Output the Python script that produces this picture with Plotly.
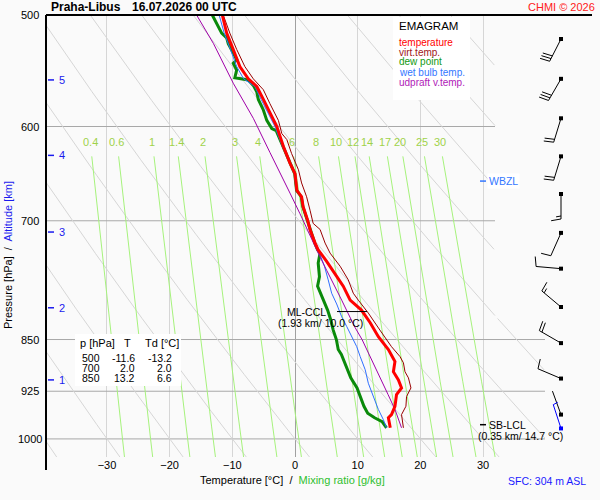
import math
import plotly.graph_objects as go

# ---------------- sounding data ----------------
temp_p = [500, 515, 529, 544, 555, 562, 574, 587, 600, 620, 637, 648, 666, 673, 684, 699, 710, 726, 734, 748,
          763, 779, 797, 810, 827, 846, 864, 881, 896, 908, 920, 930, 948, 961, 966, 982]
temp_T = [-11.6, -10.9, -9.85, -8.8, -7.45, -6.1, -5.05, -4.0, -2.9, -1.85, -0.8, 0.0, 0.3, 1.05, 1.3, 2.0, 2.4, 3.2, 3.7, 5.05,
          6.4, 7.7, 8.8, 10.6, 12.0, 13.3, 14.9, 15.95, 15.7, 16.5, 17.0, 16.2, 15.95, 15.4, 14.9, 15.2]

dew_p = [500, 507, 515, 519, 524, 532, 538, 541, 547, 554, 556, 561, 567, 574, 584, 594, 602, 604, 620, 637,
         648, 666, 673, 684, 700, 710, 726, 734, 738, 750, 767, 779, 792, 797, 810, 823, 837, 850, 864, 871,
         880, 891, 905, 920, 934, 948, 959, 966, 972, 982]
dew_T = [-13.2, -12.5, -11.7, -10.9, -10.65, -9.85, -9.3, -9.85, -9.3, -9.6, -7.45, -6.65, -6.1, -5.85, -5.05, -4.5, -3.7, -3.0, -1.9, -0.85,
         -0.05, 0.25, 1.0, 1.25, 2.0, 2.35, 3.15, 3.6, 4.0, 3.7, 3.9, 3.6, 4.3, 4.5, 5.2, 5.7, 6.1, 6.6, 6.9, 7.4,
         7.8, 8.2, 8.9, 9.9, 10.4, 11.0, 11.6, 12.7, 13.9, 14.6]

vt_p = [500, 515, 529, 544, 555, 565, 578, 594, 607, 613, 627, 644, 658, 673, 688, 703, 710, 726, 738, 754,
        771, 788, 797, 814, 837, 860, 874, 883, 896, 905, 920, 933, 948, 961, 982]
vt_T = [-11.45, -10.4, -9.3, -8.0, -6.65, -5.05, -4.0, -2.65, -2.1, -1.3, -0.55, 0.55, 1.05, 1.85, 2.4, 2.9, 4.0, 4.8, 5.6, 7.2,
        8.5, 9.3, 10.1, 11.7, 13.55, 15.4, 16.75, 17.3, 17.55, 18.1, 18.5, 17.8, 17.7, 17.0, 17.3]

wb_p = [500, 515, 529, 544, 555, 562, 574, 587, 600, 620, 637, 648, 666, 673, 684, 699, 710, 726,
        738, 754, 771, 788, 802, 819, 832, 846, 860, 874, 893, 913, 933, 953, 969, 982]
wb_T = [-12.1, -11.3, -10.3, -9.3, -8.2, -6.4, -5.4, -4.3, -3.2, -2.0, -0.9, -0.1, 0.2, 0.95, 1.2, 1.95, 2.3, 3.0,
        3.9, 4.7, 5.3, 5.85, 6.65, 7.45, 8.25, 9.05, 9.85, 10.4, 11.2, 11.7, 12.5, 13.3, 14.1, 14.6]

up_p = [500, 524, 559, 592, 626, 648, 669, 692, 718, 738, 759, 779, 797, 814, 833, 850, 870, 889, 909, 930, 953, 982]
up_T = [-15.7, -13.0, -9.85, -6.65, -4.0, -2.4, -0.8, 0.8, 2.4, 3.7, 5.05, 6.4, 7.45, 8.45, 9.55, 10.7, 11.8, 12.8, 13.9, 14.85, 15.95, 17.0]

# wind (pressure hPa, direction deg, speed kt); last one = surface
wind_p = [520, 555, 592, 630, 670, 714, 757, 806, 855, 906, 961, 983]
wind_dir = [207, 210, 197, 197, 180, 204, 275, 310, 300, 293, 340, 342]
wind_kt = [30, 30, 20, 20, 15, 10, 10, 15, 20, 10, 2, 5]

# altitude marks (km) and their pressures
alt_km = [1, 2, 3, 4, 5]
alt_p = [908, 807, 713, 629, 556]

# table
table_p = [500, 700, 850]
table_T = [-11.6, 2.0, 13.2]
table_Td = [-13.2, 2.0, 6.6]

# diagnostic levels
ccl_p, ccl_km, ccl_T = 812, 1.93, 10.0
lcl_p, lcl_km, lcl_T = 977, 0.35, 14.7
wbzl_p = 656
sfc_m = 304

# background reference lines
pressure_ticks = [500, 600, 700, 850, 925, 1000]
isobar_levels = [600, 700, 850, 925, 1000]
temp_ticks = [-30, -20, -10, 0, 10, 20, 30]
mix_ratios = [0.4, 0.6, 1, 1.4, 2, 3, 4, 6, 8, 10, 12, 14, 17, 20, 25, 30]
thetas = [233.15 + 10 * i for i in range(15)]

# ---------------- layout constants ----------------
FIG_W, FIG_H = 600, 500
M_L, M_R, M_T, M_B = 46, 8, 15, 43
P_TOP, P_BOT = 500.0, 1030.0
T_LEFT, T_RIGHT = -39.73, 47.39
PW = FIG_W - M_L - M_R
PH = FIG_H - M_T - M_B
PX_PER_C = PW / (T_RIGHT - T_LEFT)
PX_PER_DEC = PH / (math.log10(P_BOT) - math.log10(P_TOP))
FONT = "Liberation Sans, Arial, sans-serif"


def px_T(x):
    return T_LEFT + (x - M_L) / PX_PER_C


def paper_x(x):
    return (x - M_L) / PW


def paper_y(y):
    return (FIG_H - M_B - y) / PH


T_LIM_UP = px_T(495)
T_LIM_LOW = px_T(545)
P_SWITCH = 820
MIX_TOP = 630
MIX_LABEL_P = 615
BARB_T = px_T(561)


def t_limit(p):
    return T_LIM_LOW if p >= P_SWITCH else T_LIM_UP


def mix_T(w, p):
    e = w * p / (622.0 + w)
    a = math.log(e / 6.112)
    return 243.5 * a / (17.67 - a)


fig = go.Figure()

# isobars
ix, iy = [], []
for p in isobar_levels:
    ix += [T_LEFT, t_limit(p), None]
    iy += [p, p, None]
fig.add_trace(go.Scatter(x=ix, y=iy, mode="lines", line=dict(color="#a8a8a8", width=1), hoverinfo="skip"))

# dry adiabats
dx_, dy_ = [], []
N = 300
for th in thetas:
    for i in range(N + 1):
        p = P_TOP * (P_BOT / P_TOP) ** (i / N)
        T = th * (p / 1000.0) ** 0.2857 - 273.15
        if T <= t_limit(p):
            dx_.append(T)
            dy_.append(p)
        else:
            dx_.append(None)
            dy_.append(None)
    dx_.append(None)
    dy_.append(None)
fig.add_trace(go.Scatter(x=dx_, y=dy_, mode="lines", line=dict(color="#d6d6d6", width=1), hoverinfo="skip"))

# mixing ratio lines
mx, my = [], []
for w in mix_ratios:
    for i in range(21):
        p = MIX_TOP * (P_BOT / MIX_TOP) ** (i / 20)
        mx.append(mix_T(w, p))
        my.append(p)
    mx.append(None)
    my.append(None)
fig.add_trace(go.Scatter(x=mx, y=my, mode="lines", line=dict(color="#a6f27c", width=1), hoverinfo="skip"))

# profiles
fig.add_trace(go.Scatter(x=dew_T, y=dew_p, mode="lines", line=dict(color="#0a8a0a", width=3)))
fig.add_trace(go.Scatter(x=wb_T, y=wb_p, mode="lines", line=dict(color="#2f6fff", width=1)))
fig.add_trace(go.Scatter(x=up_T, y=up_p, mode="lines", line=dict(color="#a000a8", width=1)))
fig.add_trace(go.Scatter(x=vt_T, y=vt_p, mode="lines", line=dict(color="#990000", width=1)))
fig.add_trace(go.Scatter(x=temp_T, y=temp_p, mode="lines", line=dict(color="#ff0000", width=3)))

# wind barbs
STAFF, SPACING, FULL, HALF = 25.0, 3.0, 10.0, 5.0


def to_data(p, dxp, dyp):
    lp = math.log10(p) - dyp / PX_PER_DEC
    return BARB_T + dxp / PX_PER_C, 10 ** lp


def barb(p, d, spd):
    xs, ys = [], []
    sx, sy = math.sin(math.radians(d)), math.cos(math.radians(d))
    bx, by = math.sin(math.radians(d + 80)), math.cos(math.radians(d + 80))
    tip = (STAFF * sx, STAFF * sy)
    for pt in [(0, 0), tip]:
        a, b = to_data(p, *pt)
        xs.append(a)
        ys.append(b)
    xs.append(None)
    ys.append(None)
    r = int(round(spd / 5.0))
    n_full, n_half = r // 2, r % 2
    lens = [FULL] * n_full + [HALF] * n_half
    for k, ln in enumerate(lens):
        base = (tip[0] - k * SPACING * sx, tip[1] - k * SPACING * sy)
        end = (base[0] + ln * bx, base[1] + ln * by)
        for pt in [base, end]:
            a, b = to_data(p, *pt)
            xs.append(a)
            ys.append(b)
        xs.append(None)
        ys.append(None)
    return xs, ys


bx_all, by_all = [], []
for p, d, s in zip(wind_p[:-1], wind_dir[:-1], wind_kt[:-1]):
    a, b = barb(p, d, s)
    bx_all += a
    by_all += b
fig.add_trace(go.Scatter(x=bx_all, y=by_all, mode="lines", line=dict(color="black", width=1), hoverinfo="skip"))
sa, sb = barb(wind_p[-1], wind_dir[-1], wind_kt[-1])
fig.add_trace(go.Scatter(x=sa, y=sb, mode="lines", line=dict(color="#0000ff", width=1), hoverinfo="skip"))
fig.add_trace(go.Scatter(x=[BARB_T] * (len(wind_p) - 1), y=wind_p[:-1], mode="markers",
                         marker=dict(symbol="square", size=4, color="black"), hoverinfo="skip"))
fig.add_trace(go.Scatter(x=[BARB_T], y=[wind_p[-1]], mode="markers",
                         marker=dict(symbol="square", size=4, color="#0000ff"), hoverinfo="skip"))

# CCL / LCL / WBZL markers and altitude dashes
fig.add_trace(go.Scatter(x=[ccl_T - 3.3, ccl_T + 1.5], y=[ccl_p, ccl_p], mode="lines",
                         line=dict(color="black", width=1), hoverinfo="skip"))
fig.add_trace(go.Scatter(x=[px_T(480), px_T(486)], y=[lcl_p, lcl_p], mode="lines",
                         line=dict(color="black", width=1.5), hoverinfo="skip"))
fig.add_trace(go.Scatter(x=[px_T(480), px_T(486)], y=[wbzl_p, wbzl_p], mode="lines",
                         line=dict(color="#3377ff", width=1.5), hoverinfo="skip"))
ax_, ay_ = [], []
for p in alt_p:
    ax_ += [px_T(48), px_T(54), None]
    ay_ += [p, p, None]
fig.add_trace(go.Scatter(x=ax_, y=ay_, mode="lines", line=dict(color="#1a1aee", width=1.5), hoverinfo="skip"))

ann = []


def A(text, x, y, xref="paper", yref="paper", size=11, color="black", xanchor="left", yanchor="middle",
      bold=False, **kw):
    if bold:
        text = "<b>" + text + "</b>"
    ann.append(dict(text=text, x=x, y=y, xref=xref, yref=yref, showarrow=False, xanchor=xanchor,
                    yanchor=yanchor, font=dict(family=FONT, size=size, color=color), **kw))


# title / credit
A("Praha-Libus", paper_x(49), paper_y(7), size=12, bold=True)
A("16.07.2026 00 UTC", paper_x(130), paper_y(7), size=12, bold=True)
A("CHMI © 2026", paper_x(597), paper_y(7), size=11, color="#ff2020", xanchor="right")

# y tick labels (centered as in reference)
for p in pressure_ticks:
    A(str(p), paper_x(30), math.log10(p), yref="y", xanchor="center")

# mixing ratio labels
for w in mix_ratios:
    A(f"{w:g}", mix_T(w, MIX_LABEL_P), math.log10(MIX_LABEL_P), xref="x", yref="y",
      color="#9fd24a", xanchor="center")

# altitude labels
for k, p in zip(alt_km, alt_p):
    A(str(k), paper_x(57), math.log10(p), yref="y", color="#1a1aee")

# legend box
A("EMAGRAM", paper_x(397), paper_y(26), size=11.5)
leg = [("temperature", "#ff0000"), ("virt.temp.", "#a01818"), ("dew point", "#119911"),
       ("wet bulb temp.", "#3377ff"), ("udpraft v.temp.", "#b020b8")]
for i, (t, c) in enumerate(leg):
    A(t, paper_x(397), paper_y(42 + 10 * i), size=10, color=c)

# table
A("p [hPa]", paper_x(78), paper_y(343))
A("T", paper_x(127), paper_y(343), xanchor="center")
A("Td [°C]", paper_x(143), paper_y(343))
for i, (p, t, td) in enumerate(zip(table_p, table_T, table_Td)):
    yy = paper_y(358 + 10 * i)
    A(str(p), paper_x(102), yy, xanchor="right", size=10.5)
    A(f"{t:.1f}", paper_x(137), yy, xanchor="right", size=10.5)
    A(f"{td:.1f}", paper_x(174), yy, xanchor="right", size=10.5)

# diagnostics
A("ML-CCL", px_T(328), math.log10(ccl_p), xref="x", yref="y", xanchor="right", size=10.5)
A(f"({ccl_km:.2f} km/ {ccl_T:.1f} °C)", px_T(320), math.log10(ccl_p), xref="x", yref="y",
  xanchor="center", size=10.5, yshift=-11)
A("SB-LCL", px_T(487), math.log10(lcl_p), xref="x", yref="y", size=10.5)
A(f"({lcl_km:.2f} km/ {lcl_T:.1f} °C)", px_T(520), math.log10(lcl_p), xref="x", yref="y",
  xanchor="center", size=10.5, yshift=-11)
A("WBZL", px_T(487), math.log10(wbzl_p), xref="x", yref="y", size=10.5, color="#3377ff",
  bgcolor="white")
A(f"SFC: {sfc_m} m ASL", paper_x(588), paper_y(481), size=10.5, color="#1a1aff", xanchor="right")

# axis titles
A("Temperature [°C]  /  <span style='color:#2fbf2f'>Mixing ratio [g/kg]</span>",
  paper_x(292), paper_y(480), xanchor="center")
A("Pressure [hPa]  /  <span style='color:#1a1aee'>Altitude [km]</span>",
  paper_x(8), paper_y(255), xanchor="center", textangle=-90)

shapes = [
    dict(type="rect", xref="paper", yref="paper", x0=paper_x(393), x1=paper_x(470), y0=paper_y(100),
         y1=paper_y(17), fillcolor="white", line=dict(width=0), layer="above"),
    dict(type="rect", xref="paper", yref="paper", x0=paper_x(75), x1=paper_x(181), y0=paper_y(386),
         y1=paper_y(334), fillcolor="white", line=dict(width=0), layer="above"),
    dict(type="line", xref="paper", yref="paper", x0=paper_x(46), x1=paper_x(592), y0=paper_y(15),
         y1=paper_y(15), line=dict(color="black", width=2)),
    dict(type="line", xref="paper", yref="paper", x0=paper_x(46), x1=paper_x(46), y0=paper_y(15),
         y1=paper_y(470), line=dict(color="black", width=2)),
]

fig.update_layout(
    width=FIG_W, height=FIG_H, margin=dict(l=M_L, r=M_R, t=M_T, b=M_B, autoexpand=False),
    paper_bgcolor="#fafafa", plot_bgcolor="#fafafa", showlegend=False,
    font=dict(family=FONT, size=11, color="black"),
    annotations=ann, shapes=shapes,
    xaxis=dict(range=[T_LEFT, T_RIGHT], tickvals=temp_ticks, ticks="", showline=False,
               showgrid=True, gridcolor="#d6d6d6", gridwidth=1, zeroline=True, zerolinecolor="#a0a0a0",
               zerolinewidth=1, tickfont=dict(size=11), ticklabelstandoff=0),
    yaxis=dict(type="log", range=[math.log10(P_BOT), math.log10(P_TOP)], showgrid=False,
               showticklabels=False, ticks="", zeroline=False, showline=False),
)

fig.write_html("out.html", config={"displayModeBar": False},
               post_script="document.body.style.margin='0';")
